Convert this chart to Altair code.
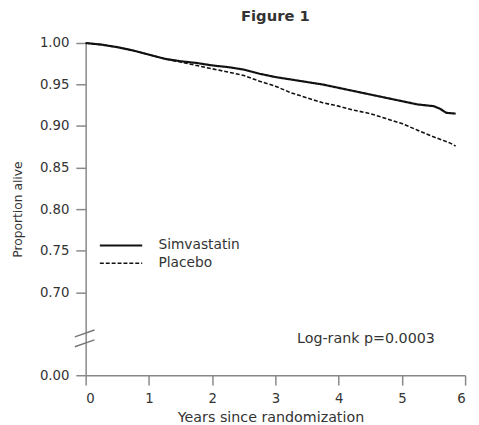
import altair as alt
import pandas as pd

series = ["Simvastatin", "Placebo"]

years_simva = [0, 0.25, 0.5, 0.75, 1.0, 1.25, 1.5, 1.75, 2.0, 2.25, 2.5, 2.75, 3.0,
               3.25, 3.5, 3.75, 4.0, 4.25, 4.5, 4.75, 5.0, 5.25, 5.5, 5.6, 5.7, 5.85]
surv_simva = [1.000, 0.998, 0.995, 0.991, 0.986, 0.981, 0.978, 0.976, 0.973, 0.971,
              0.968, 0.963, 0.959, 0.956, 0.953, 0.950, 0.946, 0.942, 0.938, 0.934,
              0.930, 0.926, 0.924, 0.921, 0.916, 0.915]

years_placebo = [0, 0.25, 0.5, 0.75, 1.0, 1.25, 1.5, 1.75, 2.0, 2.25, 2.5, 2.75, 3.0,
                 3.25, 3.5, 3.75, 4.0, 4.25, 4.5, 4.75, 5.0, 5.25, 5.5, 5.75, 5.85]
surv_placebo = [1.000, 0.998, 0.995, 0.991, 0.986, 0.981, 0.977, 0.973, 0.969, 0.965,
                0.961, 0.954, 0.948, 0.940, 0.934, 0.928, 0.924, 0.919, 0.915, 0.909,
                0.903, 0.895, 0.887, 0.880, 0.876]

x_ticks = [0, 1, 2, 3, 4, 5, 6]
y_ticks = [0.60, 0.70, 0.75, 0.80, 0.85, 0.90, 0.95, 1.00]
annotation = "Log-rank p=0.0003"
title_text = "Figure 1"

rows = []
for i, (x, y) in enumerate(zip(years_simva, surv_simva)):
    rows.append({"group": series[0], "year": x, "surv": y, "idx": i})
for i, (x, y) in enumerate(zip(years_placebo, surv_placebo)):
    rows.append({"group": series[1], "year": x, "surv": y, "idx": i})
df = pd.DataFrame(rows)

FONT = "DejaVu Sans"
TXT = "#333333"
AX = "#888888"

lines = alt.Chart(df).mark_line(color="#111111").encode(
    x=alt.X("year:Q",
            scale=alt.Scale(domain=[0, 6], nice=False, zero=False),
            axis=alt.Axis(values=x_ticks, format="d", title="Years since randomization",
                          titleX=188, titleY=43, titleAlign="center", titleBaseline="middle",
                          titleFontSize=14.5)),
    y=alt.Y("surv:Q",
            scale=alt.Scale(domain=[0.6, 1.0], nice=False, zero=False),
            axis=alt.Axis(values=y_ticks,
                          labelExpr="datum.value < 0.65 ? '0.00' : format(datum.value, '.2f')",
                          title="Proportion alive", titleX=-69, titleY=169,
                          titleAlign="center", titleBaseline="middle", titleFontSize=12.5)),
    strokeDash=alt.StrokeDash("group:N",
                              scale=alt.Scale(domain=series, range=[[1, 0], [4, 2]]),
                              legend=alt.Legend(title=None, orient="none", legendX=29, legendY=199,
                                                symbolType="M-4,0H4", symbolSize=116,
                                                symbolStrokeWidth=2, symbolStrokeColor="#111111",
                                                labelOffset=31, labelFont=FONT, labelFontSize=14,
                                                labelColor=TXT, rowPadding=4, padding=0)),
    strokeWidth=alt.StrokeWidth("group:N",
                                scale=alt.Scale(domain=series, range=[2.2, 1.6]),
                                legend=None),
    order="idx:Q",
)

one = alt.Data(values=[{"k": 0}])
brk1 = alt.Chart(one).mark_rule(color="#777777", strokeWidth=1.5).encode(
    x=alt.value(-11), x2=alt.value(9), y=alt.value(299), y2=alt.value(292))
brk2 = alt.Chart(one).mark_rule(color="#777777", strokeWidth=1.5).encode(
    x=alt.value(-11), x2=alt.value(9), y=alt.value(309), y2=alt.value(302))

note = alt.Chart(alt.Data(values=[{"t": annotation}])).mark_text(
    align="left", baseline="middle", font=FONT, fontSize=14.5, color=TXT
).encode(x=alt.value(215), y=alt.value(301), text="t:N")

chart = alt.layer(lines, brk1, brk2, note).properties(
    width=386, height=338,
    padding={"left": 79, "top": 32, "right": 6, "bottom": 47},
    autosize=alt.AutoSizeParams(type="none"),
    title=alt.TitleParams(title_text, font=FONT, fontSize=15, fontWeight="bold",
                          color=TXT, anchor="middle", offset=12),
).configure_view(stroke=None).configure_axis(
    domainColor=AX, domainWidth=1.5, tickColor=AX, tickWidth=1.5, tickSize=10,
    labelFont=FONT, labelFontSize=13.5, labelColor=TXT, labelPadding=7,
    titleFont=FONT, titleColor=TXT, titleFontWeight="normal", grid=False,
)

chart.save("out.html", embed_options={"renderer": "svg", "actions": False})
